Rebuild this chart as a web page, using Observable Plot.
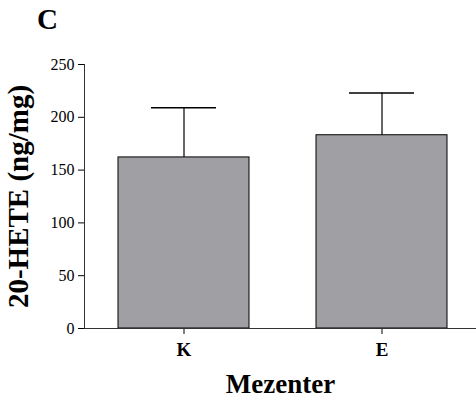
<!DOCTYPE html>
<html>
<head>
<meta charset="utf-8">
<script src="https://cdn.jsdelivr.net/npm/d3@7"></script>
<script src="https://cdn.jsdelivr.net/npm/@observablehq/plot@0.6"></script>
<style>
  html, body { margin: 0; padding: 0; background: #fff; }
  #wrap { position: relative; width: 476px; height: 406px; }
  #panel { position: absolute; left: 37px; top: 5px; font: bold 29px "Liberation Serif", "Times New Roman", serif; color: #000; line-height: 1; }
  svg { font-family: "Liberation Serif", "Times New Roman", serif !important; }
  svg g[aria-label="y-axis label"] text { font-weight: bold !important; font-size: 29px !important; }
  svg g[aria-label="x-axis label"] text { font-weight: bold !important; font-size: 27px !important; }
  svg g[aria-label="x-axis tick label"] text { font-weight: bold !important; font-size: 19px !important; }
  svg g[aria-label="y-axis tick label"] text { font-size: 16px !important; }
</style>
</head>
<body>
<div id="wrap"><div id="panel">C</div></div>
<script>
const groups = ["K", "E"];
const means = [162, 183];
const errs = [47, 40];
const yTicks = [0, 50, 100, 150, 200, 250];

const data = groups.map((g, i) => ({ g, mean: means[i], top: means[i] + errs[i] }));

const chart = Plot.plot({
  width: 476,
  height: 406,
  marginLeft: 84,
  marginRight: 0,
  marginTop: 64,
  marginBottom: 78,
  style: { fontFamily: '"Liberation Serif", "Times New Roman", serif', color: "#000", background: "transparent", overflow: "visible" },
  x: { domain: groups, range: [84, 481], paddingInner: 0.337, paddingOuter: 0.166 },
  y: { domain: [0, 250] },
  marks: [
    Plot.barY(data, { x: "g", y: "mean", fill: "#a09fa4", stroke: "#000", strokeWidth: 1 }),
    Plot.ruleX(data, { x: "g", y1: "mean", y2: "top", stroke: "#000", strokeWidth: 1.2 }),
    Plot.tickY(data, { x: "g", y: "top", stroke: "#000", strokeWidth: 1.5, insetLeft: 33, insetRight: 33 }),
    Plot.axisY(yTicks, { ticks: yTicks, tickSize: 6, tickPadding: 4, label: "20-HETE (ng/mg)", labelAnchor: "center", labelArrow: "none", labelOffset: 77, fontSize: 16 }),
    Plot.axisX({ tickSize: 6, tickPadding: 8, label: "Mezenter", labelAnchor: "center", labelArrow: "none", labelOffset: 64, fontSize: 19 }),
    Plot.frame({ anchor: "left", stroke: "#333" }),
    Plot.ruleY([0], { stroke: "#333" })
  ]
});
document.getElementById("wrap").appendChild(chart);
</script>
</body>
</html>
